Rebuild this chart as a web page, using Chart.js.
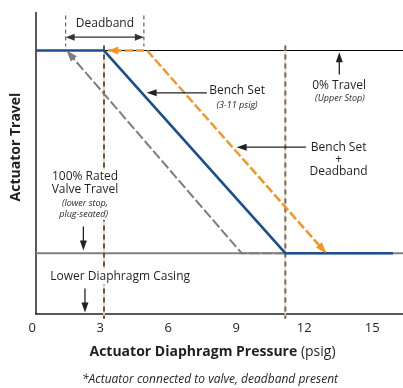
<!DOCTYPE html>
<html><head><meta charset="utf-8">
<script src="https://cdn.jsdelivr.net/npm/chart.js@4.4.1/dist/chart.umd.min.js"></script>
<style>html,body{margin:0;padding:0;background:#fff;overflow:hidden}canvas{display:block}</style>
</head><body>
<canvas id="c" width="403" height="388"></canvas>
<script>
// ---- data (x: actuator diaphragm pressure, psig; y: actuator travel, % of rated travel; 0 = upper stop, 100 = lower stop)
const xTickLabels = [0, 3, 6, 9, 12, 15];
const benchSetX = [0, 3, 11, 15.75];
const benchSetY = [0, 0, 100, 100];
const benchDeadbandTopX = [4.76, 3.19];
const benchDeadbandTopY = [0, 0];
const benchDeadbandX = [4.9, 12.8];
const benchDeadbandY = [0, 100];
const returnX = [11, 9.07, 1.35];
const returnY = [100, 100, 0];
const upperStopX = [0, 16.19];
const upperStopY = [0, 0];
const lowerStopX = [0, 16.19];
const lowerStopY = [100, 100];
const benchLimitsX = [3, 11];
const deadbandLimitsX = [1.31, 4.76];

const FONT = '"Open Sans", "Noto Sans", sans-serif';
const TXT = '#231f20';

function pts(xs, ys) { return xs.map((x, i) => ({ x: x, y: ys[i] })); }

function head(ctx, x1, y1, x2, y2, len, w, color) {
  const a = Math.atan2(y2 - y1, x2 - x1);
  ctx.save(); ctx.translate(x2, y2); ctx.rotate(a);
  ctx.beginPath(); ctx.moveTo(0, 0); ctx.lineTo(-len, w / 2); ctx.lineTo(-len, -w / 2); ctx.closePath();
  ctx.fillStyle = color; ctx.fill(); ctx.restore();
}
function arrow(ctx, x1, y1, x2, y2, color, lw, len, w, both) {
  const d = Math.hypot(x2 - x1, y2 - y1), ux = (x2 - x1) / d, uy = (y2 - y1) / d;
  ctx.save(); ctx.strokeStyle = color; ctx.lineWidth = lw; ctx.setLineDash([]);
  ctx.beginPath();
  ctx.moveTo(both ? x1 + ux * len * 0.8 : x1, both ? y1 + uy * len * 0.8 : y1);
  ctx.lineTo(x2 - ux * len * 0.8, y2 - uy * len * 0.8); ctx.stroke(); ctx.restore();
  head(ctx, x1, y1, x2, y2, len, w, color);
  if (both) head(ctx, x2, y2, x1, y1, len, w, color);
}
function text(ctx, s, x, y, font, color, align, bg) {
  ctx.save(); ctx.font = font; ctx.textAlign = align || 'center'; ctx.textBaseline = 'middle';
  if (bg) {
    const w = ctx.measureText(s).width, h = parseFloat(font.match(/(\d+(\.\d+)?)px/)[1]) * 1.25;
    const left = (align === 'left') ? x : x - w / 2;
    ctx.fillStyle = '#fff'; ctx.fillRect(left - 2, y - h / 2, w + 4, h);
  }
  ctx.fillStyle = color || TXT; ctx.fillText(s, x, y); ctx.restore();
}

const datasets = [
  { data: pts(benchSetX, benchSetY), borderColor: '#1c4f8d', borderWidth: 2.6, order: 1 },
  { data: pts(benchDeadbandTopX, benchDeadbandTopY), borderColor: '#f7941d', borderWidth: 2.4, borderDash: [8, 3], order: 2 },
  { data: pts(benchDeadbandX, benchDeadbandY), borderColor: '#f7941d', borderWidth: 2.4, borderDash: [9, 3], order: 2 },
  { data: pts(returnX, returnY), borderColor: '#7d7d7d', borderWidth: 2, borderDash: [10, 3], order: 3 },
  { data: pts(upperStopX, upperStopY), borderColor: '#000', borderWidth: 1, order: 6 },
  { data: pts(lowerStopX, lowerStopY), borderColor: '#808080', borderWidth: 2, order: 6 },
];
// bench-set limit markers (3 and 11 psig)
benchLimitsX.forEach((bx, i) => {
  datasets.push({ data: pts([bx, bx], [-2.5, 132.3]), borderColor: '#fbcf9f', borderWidth: 1, order: 5 });
  datasets.push({ data: pts([bx, bx], [-2.5, 132.3]), borderColor: i === 0 ? '#222' : '#6a6a6a', borderWidth: i === 0 ? 1.4 : 2, borderDash: [5, 4], order: 4 });
});
// deadband limit markers
deadbandLimitsX.forEach(dx => {
  datasets.push({ data: pts([dx, dx], [-17.3, -2]), borderColor: '#444', borderWidth: 1, borderDash: [4, 3], order: 4 });
});
datasets.forEach(d => { d.showLine = true; d.pointRadius = 0; d.fill = false; d.clip = false; d.tension = 0; });

const annot = {
  id: 'annot',
  beforeDatasetsDraw(chart) {
    const ctx = chart.ctx, X = v => chart.scales.x.getPixelForValue(v);
    const a = chart.chartArea;
    ctx.save();
    ctx.strokeStyle = '#5a5a5a'; ctx.lineWidth = 2;
    ctx.beginPath(); ctx.moveTo(X(0), a.top); ctx.lineTo(X(0), a.bottom); ctx.stroke();
    ctx.strokeStyle = '#222'; ctx.lineWidth = 1.6;
    ctx.beginPath(); ctx.moveTo(X(0) - 1, a.bottom); ctx.lineTo(a.right, a.bottom); ctx.stroke();
    ctx.restore();
  },
  afterDatasetsDraw(chart) {
    const ctx = chart.ctx, X = v => chart.scales.x.getPixelForValue(v), Y = v => chart.scales.y.getPixelForValue(v);
    const a = chart.chartArea;
    // arrowheads on the data lines
    head(ctx, X(benchDeadbandTopX[0]), Y(0), X(benchDeadbandTopX[1]), Y(0), 10, 8, '#f7941d');
    head(ctx, X(benchDeadbandX[0]), Y(benchDeadbandY[0]), X(benchDeadbandX[1]), Y(benchDeadbandY[1]), 11, 8, '#f7941d');
    head(ctx, X(returnX[1]), Y(returnY[1]), X(returnX[2]), Y(returnY[2]), 11, 8, '#7d7d7d');

    // deadband
    arrow(ctx, X(deadbandLimitsX[0]), Y(-6.6), X(deadbandLimitsX[1]), Y(-6.6), '#333', 1.4, 9, 7, true);
    text(ctx, 'Deadband', X(3.04), Y(-13.4), '12px ' + FONT);
    // bench set
    arrow(ctx, X(7.54), Y(20.9), X(4.88), Y(20.9), '#222', 1.3, 10, 7);
    text(ctx, 'Bench Set', X(8.87), Y(20), '12px ' + FONT);
    text(ctx, '(3-11 psig)', X(8.87), Y(26.9), 'italic 9px ' + FONT);
    // bench set + deadband
    arrow(ctx, X(11.91), Y(47.7), X(8.85), Y(47.7), '#222', 1.3, 10, 7);
    text(ctx, 'Bench Set', X(13.35), Y(47.7), '12px ' + FONT);
    text(ctx, '+', X(13.35), Y(53.6), '12px ' + FONT);
    text(ctx, 'Deadband', X(13.35), Y(59.5), '12px ' + FONT);
    // 0% travel
    arrow(ctx, X(13.38), Y(11.8), X(13.38), Y(0.8), '#222', 1.3, 10, 7);
    text(ctx, '0% Travel', X(13.37), Y(17.4), '12px ' + FONT);
    text(ctx, '(Upper Stop)', X(13.41), Y(23.8), 'italic 9px ' + FONT);
    // 100% rated valve travel
    text(ctx, '100% Rated', X(2.16), Y(62.4), '12px ' + FONT, TXT, 'center', true);
    text(ctx, 'Valve Travel', X(2.16), Y(68.8), '12px ' + FONT, TXT, 'center', true);
    text(ctx, '(lower stop,', X(2.16), Y(75.5), 'italic 9px ' + FONT, TXT, 'center', true);
    text(ctx, 'plug-seated)', X(2.1), Y(80.8), 'italic 9px ' + FONT, TXT, 'center', true);
    arrow(ctx, X(2.09), Y(86.8), X(2.09), Y(98.7), '#222', 1.3, 10, 7);
    // lower diaphragm casing
    text(ctx, 'Lower Diaphragm Casing', X(3.71), Y(111.6), '12px ' + FONT, TXT, 'center', true);
    arrow(ctx, X(2.16), Y(117.4), X(2.16), Y(129.3), '#222', 1.3, 10, 7);

    // x tick labels
    xTickLabels.forEach(t => text(ctx, String(t), X(t) - 3.8, a.bottom + 14, '13px ' + FONT));

    // x title (bold + regular)
    ctx.save();
    const b = 'Actuator Diaphragm Pressure', r = ' (psig)';
    ctx.font = 'bold 14px ' + FONT; const wb = ctx.measureText(b).width;
    ctx.font = '14px ' + FONT; const wr = ctx.measureText(r).width;
    const x0 = 212.5 - (wb + wr) / 2;
    ctx.restore();
    text(ctx, b, x0, a.bottom + 38, 'bold 14px ' + FONT, TXT, 'left');
    text(ctx, r, x0 + wb, a.bottom + 38, '14px ' + FONT, TXT, 'left');
    // footnote
    text(ctx, '*Actuator connected to valve, deadband present', 210, a.bottom + 66, 'italic 12px ' + FONT);
    // y title
    ctx.save(); ctx.translate(16, 147); ctx.rotate(-Math.PI / 2);
    text(ctx, 'Actuator Travel', 0, 0, 'bold 14px ' + FONT);
    ctx.restore();
  }
};

new Chart(document.getElementById('c'), {
  type: 'scatter',
  data: { datasets: datasets },
  options: {
    responsive: false, animation: false, events: [],
    layout: { padding: { left: 36, top: 12, right: 0, bottom: 74 } },
    plugins: { legend: { display: false }, tooltip: { enabled: false } },
    scales: {
      x: { type: 'linear', min: 0, max: 16.19, display: false },
      y: { type: 'linear', min: -19, max: 130, reverse: true, display: false }
    }
  },
  plugins: [annot]
});
</script>
</body></html>
